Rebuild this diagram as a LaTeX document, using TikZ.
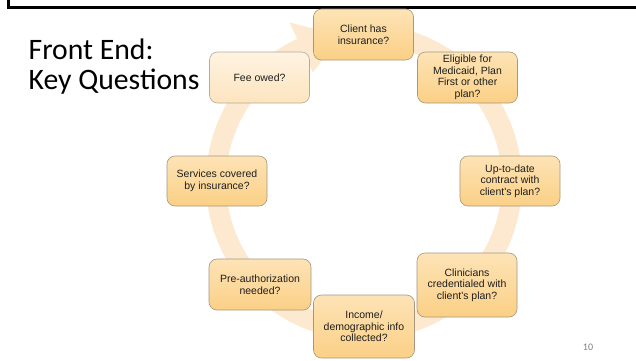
\documentclass[tikz,border=0pt]{standalone}
\usepackage{fontspec}
\newfontfamily\boxfont{Liberation Sans}
\newfontfamily\titlefont{Carlito}
\definecolor{ringc}{HTML}{FDE9CF}
\definecolor{boxtop}{HTML}{FDE3B6}
\definecolor{boxbot}{HTML}{FBD086}
\definecolor{boxline}{HTML}{A6977E}
\definecolor{featop}{HTML}{FEF3E2}
\definecolor{feabot}{HTML}{FDE4BE}
\definecolor{fealine}{HTML}{B5AB9B}
\definecolor{txt}{HTML}{1E1E1E}
\tikzset{
  qbox/.style={rectangle, rounded corners=8pt, draw=boxline, line width=0.6pt,
    top color=boxtop, bottom color=boxbot, minimum width=100pt, minimum height=51pt,
    align=center, inner sep=2pt, text=txt,
    font=\boxfont\fontsize{10.5}{11.5}\selectfont},
  feebox/.style={qbox, draw=fealine, top color=featop, bottom color=feabot},
  ring/.style={draw=ringc, line width=20pt},
  frameline/.style={draw=black, line width=2.5pt},
  titletext/.style={anchor=base west, inner sep=0, font=\titlefont\fontsize{29.7}{30}\selectfont},
}
\begin{document}
\begin{tikzpicture}[x=1pt,y=1pt]
\useasboundingbox (0,0) rectangle (636,360);
\fill[white] (0,0) rectangle (636,360);
% frame
\coordinate (fb) at (8.5,360);
\coordinate (fc) at (8.5,352.7);
\coordinate (fr) at (636,352.7);
\draw[frameline] (fb) -- (fc) -- (fr);
% cycle ring
\coordinate (c) at (364,178);
\draw[ring] ([shift={(75:148)}]c) arc[start angle=75, end angle=-245, radius=148];
\fill[ringc] ([shift={(115:121)}]c) -- ([shift={(115:176)}]c) -- ([shift={(99:148)}]c) -- cycle;
% title
\node[titletext] (t1) at (28.5,300.7) {Front End:};
\node[titletext] (t2) at (28.5,270.7) {Key Questions};
% boxes
\node[qbox] (client) at (363.5,325.5) {Client has\\insurance?};
\node[qbox] (elig) at (467.5,282.5) {Eligible for\\Medicaid, Plan\\First or other\\plan?};
\node[qbox, minimum height=50pt] (upd) at (510,179) {Up-to-date\\contract with\\client's plan?};
\node[qbox, minimum height=64pt] (clin) at (467,75) {Clinicians\\credentialed with\\client's plan?};
\node[qbox, minimum height=63pt, minimum width=101pt] (inc) at (364,33.5) {Income/\\demographic info\\collected?};
\node[qbox, minimum width=102pt] (pre) at (260,75.5) {Pre-authorization\\needed?};
\node[qbox, minimum height=50pt] (serv) at (217,179) {Services covered\\by insurance?};
\node[feebox] (fee) at (259.5,282.5) {Fee owed?};
% page number
\node[font=\titlefont\fontsize{10}{12}\selectfont, text=gray, inner sep=0] (pg) at (588,12.5) {10};
\end{tikzpicture}
\end{document}
